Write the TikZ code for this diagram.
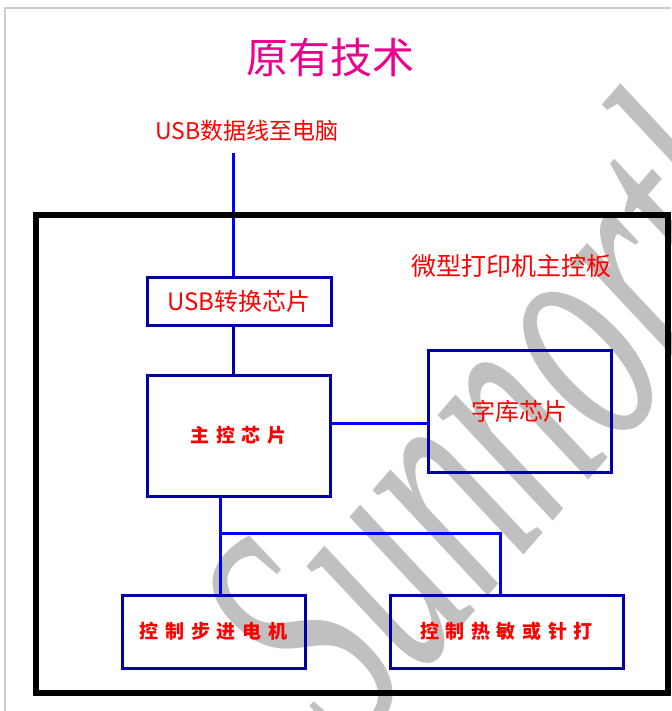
\documentclass[tikz,border=0pt]{standalone}
\usepackage{fontspec}
\newfontfamily\cjk{Noto Sans CJK SC}
\newfontfamily\cjkwide[LetterSpace=35]{Noto Sans CJK SC}
\setmainfont{Liberation Serif}
\pgfdeclarelayer{bg}
\pgfsetlayers{bg,main}
\definecolor{chipblue}{RGB}{0,0,165}
\definecolor{wireblue}{RGB}{0,0,250}
\definecolor{markgray}{RGB}{192,192,192}

\begin{document}
\begin{tikzpicture}[x=1pt,y=-1pt,
  chip/.style={draw=chipblue,line width=3pt,inner sep=0pt,text=red},
  plain/.style={font=\cjk\fontsize{24}{24}\selectfont},
  wide/.style={font=\cjkwide\bfseries\fontsize{19}{19}\selectfont},
  link/.style={draw=wireblue,line width=3pt}]
\useasboundingbox (0,0) rectangle (671,711);
\draw[gray!40,line width=1.5pt] (5,711) |- (671,8);
\begin{pgfonlayer}{bg}
  \node[text=markgray,rotate=49] (mark) at (505,400)
    {\scalebox{1}[1.7]{\fontsize{200}{200}\selectfont\itshape Sunnorth}};
\end{pgfonlayer}
\node[text=magenta,font=\cjk\fontsize{42}{42}\selectfont] (title) at (330,58) {原有技术};
\node[text=red,font=\cjk\fontsize{23}{23}\selectfont] (cablelabel) at (247,131) {USB数据线至电脑};
\node[text=red,font=\cjk\fontsize{25}{25}\selectfont] (boardlabel) at (511,266) {微型打印机主控板};
\node[chip,plain,minimum width=184pt,minimum height=48pt] (usb) at (239,301) {USB转换芯片};
\node[chip,wide,minimum width=183pt,minimum height=121pt] (main) at (238.5,435.5) {主控芯片};
\node[chip,plain,minimum width=183pt,minimum height=122pt] (fontchip) at (519.5,411) {字库芯片};
\node[chip,wide,minimum width=183pt,minimum height=73pt] (motor) at (213.5,631.5) {控制步进电机};
\node[chip,wide,minimum width=233pt,minimum height=73pt] (print) at (506.5,631.5) {控制热敏或针打};
\coordinate (cable) at (233,153);
\coordinate (bus) at (0,423);
\coordinate (split) at (220,533);
\coordinate (tap) at (500,533);
\draw[link] (cable) -- (cable |- usb.north);
\draw[link,draw=chipblue] (cable |- usb.south) -- (cable |- main.north);
\draw[link] (main.east |- bus) -- (fontchip.west |- bus);
\draw[link] (split |- main.south) -- (split |- motor.north);
\draw[link] (split) -- (tap) -- (tap |- print.north);
\draw[line width=6pt] (36,215) rectangle (668,693);
\end{tikzpicture}
\end{document}
